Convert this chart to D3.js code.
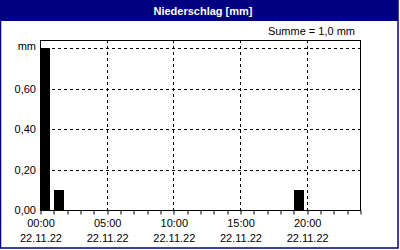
<!DOCTYPE html>
<html lang="de">
  <head>
    <meta charset="utf-8" />
    <script src="https://d3js.org/d3.v7.min.js"></script>
  </head>
  <style>
    body { margin: 0; background: #fff; }
    svg text { font-family: 'Liberation Sans', Arial, sans-serif; font-size: 11px; fill: #000; }
    .title { font-weight: bold; fill: #fff; }
  </style>
  <body>
    <div id="chart"></div>
    <script>
      // data -----------------------------------------------------------
      var hours = [0, 1, 19];           // start hour of each bar
      var amounts = [0.8, 0.1, 0.1];    // mm per hour
      var yTicks = [0, 0.2, 0.4, 0.6];
      var xTicks = [0, 5, 10, 15, 20];
      var xTimeLabels = ['00:00', '05:00', '10:00', '15:00', '20:00'];
      var dateLabel = '22.11.22';
      var titleText = 'Niederschlag [mm]';
      var sumText = 'Summe = 1,0 mm';

      var W = 400, H = 250;
      var plot = { left: 40, right: 360, top: 40, bottom: 210 };
      var navy = '#000080';

      var svg = d3.select('#chart').append('svg')
        .attr('width', W).attr('height', H);

      // frame and title bar
      svg.append('rect').attr('x', 0).attr('y', 0).attr('width', 398).attr('height', 21)
        .attr('fill', navy);
      svg.append('rect').attr('x', 0.5).attr('y', 0.5).attr('width', 397.5).attr('height', 247.5)
        .attr('fill', 'none').attr('stroke', navy).attr('stroke-width', 1.5);
      svg.append('text').attr('class', 'title')
        .attr('x', 203).attr('y', 14.5).attr('text-anchor', 'middle')
        .text(titleText);

      // scales
      var x = d3.scaleLinear().domain([0, 24]).range([plot.left, plot.right]);
      var y = d3.scaleLinear().domain([0, 0.84]).range([plot.bottom, plot.top]);

      // gridlines
      var grid = svg.append('g').attr('stroke', '#000').attr('stroke-dasharray', '3,3')
        .attr('shape-rendering', 'crispEdges');
      grid.selectAll('.hg').data(yTicks.slice(1).concat([0.8])).join('line')
        .attr('x1', plot.left).attr('x2', plot.right)
        .attr('y1', d => Math.round(y(d)) + 0.5).attr('y2', d => Math.round(y(d)) + 0.5);
      grid.selectAll('.vg').data(xTicks.slice(1)).join('line')
        .attr('y1', plot.top).attr('y2', plot.bottom)
        .attr('x1', d => Math.round(x(d)) + 0.5).attr('x2', d => Math.round(x(d)) + 0.5);

      // bars
      svg.append('g').selectAll('rect').data(hours).join('rect')
        .attr('x', (d, i) => Math.round(x(d)) + (i === 0 ? 0 : 1))
        .attr('width', d => Math.round(x(d + 0.75) - x(d)))
        .attr('y', (d, i) => Math.round(y(amounts[i])))
        .attr('height', (d, i) => plot.bottom - Math.round(y(amounts[i])))
        .attr('fill', '#000');

      // plot border
      svg.append('rect')
        .attr('x', plot.left + 0.5).attr('y', plot.top + 0.5)
        .attr('width', plot.right - plot.left).attr('height', plot.bottom - plot.top)
        .attr('fill', 'none').attr('stroke', '#000');

      // x axis: hourly ticks
      var xAxis = svg.append('g').attr('transform', 'translate(0,' + (plot.bottom + 0.5) + ')')
        .call(d3.axisBottom(x).tickValues(d3.range(0, 25)).tickSize(4).tickFormat(''));
      xAxis.select('.domain').remove();
      xAxis.selectAll('line').attr('transform', function (d) {
        return 'translate(' + (Math.round(x(d)) + 0.5 - x(d)) + ',0)';
      });

      var labels = svg.append('g');
      labels.selectAll('.tl').data(xTicks).join('text')
        .attr('x', d => x(d) + 1).attr('y', 227).attr('text-anchor', 'middle')
        .text((d, i) => xTimeLabels[i]);
      labels.selectAll('.dl').data(xTicks).join('text')
        .attr('x', d => x(d) + 1).attr('y', 242).attr('text-anchor', 'middle')
        .text(dateLabel);

      // y labels
      labels.selectAll('.yl').data(yTicks).join('text')
        .attr('x', 36).attr('y', d => y(d) + 4).attr('text-anchor', 'end')
        .text(d => d3.format('.2f')(d).replace('.', ','));
      labels.append('text').attr('x', 36).attr('y', y(0.8) + 2).attr('text-anchor', 'end')
        .text('mm');

      labels.append('text').attr('x', 355).attr('y', 35).attr('text-anchor', 'end')
        .text(sumText);
    </script>
  </body>
</html>
